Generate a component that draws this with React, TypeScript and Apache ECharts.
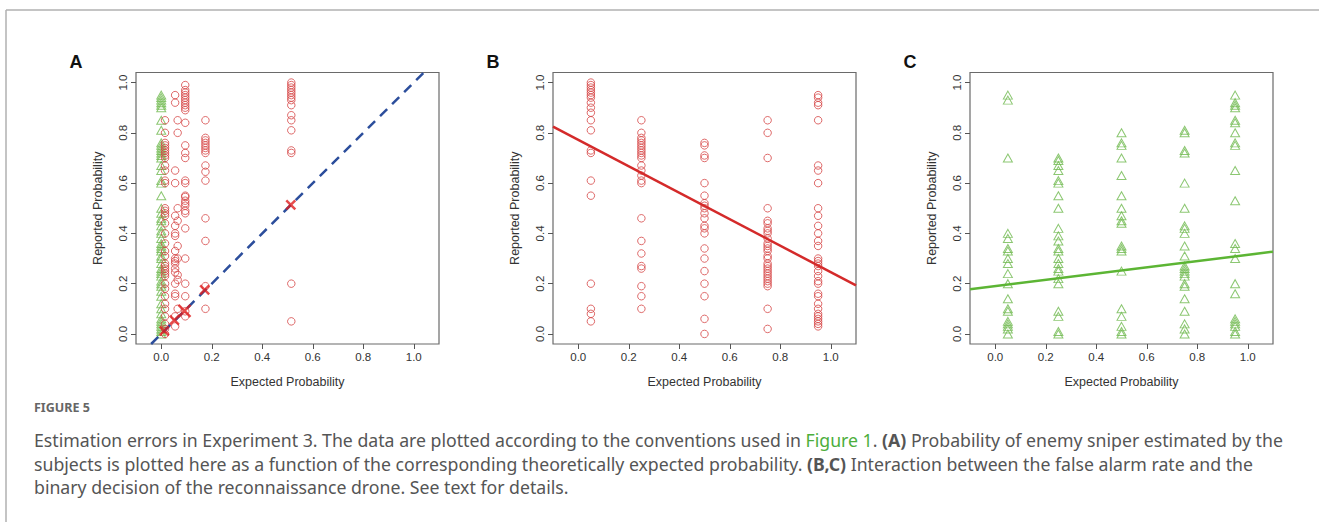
import React, { useEffect, useRef } from "react";
import * as echarts from "echarts";

// ---------- data ----------
const TICKS = [0, 0.2, 0.4, 0.6, 0.8, 1.0];

// Panel A
const aGreenX = 0;
const aGreenY = [0.95, 0.94, 0.93, 0.92, 0.91, 0.9, 0.85, 0.81, 0.76, 0.75, 0.74, 0.73, 0.72, 0.71, 0.7, 0.67, 0.65, 0.61, 0.6, 0.55, 0.5, 0.48, 0.46, 0.45, 0.43, 0.41, 0.4, 0.38, 0.36, 0.35, 0.34, 0.33, 0.31, 0.3, 0.28, 0.26, 0.25, 0.24, 0.23, 0.21, 0.2, 0.19, 0.17, 0.15, 0.12, 0.1, 0.08, 0.06, 0.05, 0.04, 0.03, 0.02, 0.01, 0.0];
const aRedX = [0.015, 0.055, 0.065, 0.095, 0.175, 0.515];
const aRed1 = [0.85, 0.8, 0.76, 0.75, 0.74, 0.73, 0.72, 0.71, 0.7, 0.67, 0.65, 0.61, 0.6, 0.5, 0.49, 0.48, 0.47, 0.44, 0.4, 0.36, 0.33, 0.31, 0.28, 0.27, 0.26, 0.25, 0.24, 0.23, 0.2, 0.18, 0.15, 0.12, 0.1, 0.07, 0.04, 0.02, 0.0];
const aRed2 = [0.95, 0.92, 0.65, 0.6, 0.47, 0.43, 0.4, 0.39, 0.33, 0.3, 0.29, 0.28, 0.26, 0.245, 0.2, 0.16, 0.15, 0.07, 0.03];
const aRed3 = [0.85, 0.8, 0.5, 0.45, 0.35, 0.3, 0.235, 0.215, 0.1];
const aRed4 = [0.99, 0.97, 0.96, 0.95, 0.94, 0.93, 0.92, 0.91, 0.9, 0.89, 0.84, 0.75, 0.72, 0.7, 0.61, 0.6, 0.55, 0.545, 0.53, 0.52, 0.51, 0.49, 0.48, 0.42, 0.3, 0.2, 0.15, 0.09, 0.07];
const aRed5 = [0.85, 0.78, 0.77, 0.76, 0.75, 0.74, 0.73, 0.72, 0.67, 0.645, 0.61, 0.46, 0.37, 0.19, 0.1];
const aRed6 = [1.0, 0.99, 0.98, 0.97, 0.96, 0.95, 0.94, 0.93, 0.91, 0.87, 0.85, 0.81, 0.73, 0.72, 0.2, 0.05];
const aCrossX = [0.012, 0.052, 0.092, 0.172, 0.513];
const aCrossY = [0.012, 0.055, 0.092, 0.175, 0.513];
const aCrossSize = [9, 9, 12, 9, 9];
const aDiagX = [-0.04, 1.04];
const aDiagY = [-0.04, 1.04];

// Panel B (red circles) columns
const bX = [0.05, 0.25, 0.5, 0.75, 0.95];
const bY = [
  [1.0, 0.99, 0.98, 0.97, 0.96, 0.95, 0.94, 0.92, 0.9, 0.88, 0.85, 0.81, 0.73, 0.72, 0.61, 0.55, 0.2, 0.1, 0.08, 0.05],
  [0.85, 0.8, 0.78, 0.77, 0.76, 0.75, 0.74, 0.73, 0.72, 0.71, 0.7, 0.67, 0.65, 0.63, 0.61, 0.6, 0.46, 0.37, 0.32, 0.27, 0.26, 0.19, 0.15, 0.1],
  [0.76, 0.75, 0.71, 0.7, 0.6, 0.55, 0.52, 0.51, 0.5, 0.48, 0.46, 0.43, 0.42, 0.4, 0.34, 0.3, 0.25, 0.2, 0.15, 0.06, 0.0],
  [0.85, 0.8, 0.7, 0.5, 0.45, 0.44, 0.42, 0.41, 0.4, 0.38, 0.36, 0.35, 0.34, 0.33, 0.31, 0.3, 0.28, 0.27, 0.26, 0.25, 0.24, 0.23, 0.22, 0.21, 0.2, 0.19, 0.1, 0.02],
  [0.95, 0.94, 0.92, 0.91, 0.85, 0.67, 0.65, 0.6, 0.5, 0.47, 0.43, 0.4, 0.37, 0.35, 0.3, 0.29, 0.28, 0.27, 0.25, 0.23, 0.21, 0.2, 0.16, 0.15, 0.12, 0.1, 0.08, 0.07, 0.06, 0.05, 0.04, 0.03],
];
const bLineX = [-0.1, 1.1];
const bLineY = [0.825, 0.193];

// Panel C (green triangles) columns
const cX = [0.05, 0.25, 0.5, 0.75, 0.95];
const cY = [
  [0.95, 0.93, 0.7, 0.4, 0.38, 0.34, 0.33, 0.3, 0.28, 0.24, 0.2, 0.14, 0.1, 0.09, 0.05, 0.04, 0.03, 0.02, 0.0],
  [0.7, 0.69, 0.67, 0.65, 0.61, 0.6, 0.55, 0.5, 0.42, 0.39, 0.37, 0.34, 0.33, 0.3, 0.28, 0.26, 0.25, 0.22, 0.2, 0.09, 0.07, 0.01, 0.0],
  [0.8, 0.76, 0.75, 0.7, 0.63, 0.55, 0.5, 0.47, 0.45, 0.44, 0.35, 0.34, 0.33, 0.25, 0.1, 0.07, 0.03, 0.01, 0.0],
  [0.81, 0.8, 0.73, 0.72, 0.6, 0.5, 0.43, 0.42, 0.4, 0.35, 0.31, 0.27, 0.26, 0.25, 0.24, 0.23, 0.2, 0.19, 0.14, 0.09, 0.04, 0.02, 0.0],
  [0.95, 0.92, 0.91, 0.9, 0.85, 0.84, 0.8, 0.76, 0.75, 0.65, 0.53, 0.36, 0.34, 0.3, 0.2, 0.16, 0.06, 0.05, 0.04, 0.03, 0.01, 0.0],
];
const cLineX = [-0.1, 1.1];
const cLineY = [0.178, 0.327];

const panelLabels = ["A", "B", "C"];
const axisXName = "Expected Probability";
const axisYName = "Reported Probability";
const captionHead = "FIGURE 5";
const captionLines = [
  "Estimation errors in Experiment 3. The data are plotted according to the conventions used in {g|Figure 1}. {b|(A)} Probability of enemy sniper estimated by the",
  "subjects is plotted here as a function of the corresponding theoretically expected probability. {b|(B,C)} Interaction between the false alarm rate and the",
  "binary decision of the reconnaissance drone. See text for details.",
];

// ---------- styling ----------
const RED = "#d64545";
const GREEN = "#6fb94f";
const AXIS_FONT = "Liberation Sans, Arial, sans-serif";
const CAP_FONT = "Noto Sans, Open Sans, sans-serif";
const CAP_SIZE = 17.7;
const GRID_LEFTS = [136, 553, 970];
const GRID_TOP = 72.5;
const GRID_W = 303;
const GRID_H = 271.5;

const col = (x: number, ys: number[]) => ys.map((y) => [x, y]);
const zip = (xs: number[], ys: number[]) => xs.map((x, i) => [x, ys[i]]);

export default function App() {
  const ref = useRef<HTMLDivElement>(null);
  useEffect(() => {
    if (!ref.current) return;
    const chart = echarts.init(ref.current, undefined, { renderer: "svg" });

    const grids = GRID_LEFTS.map((l) => ({
      left: l,
      top: GRID_TOP,
      width: GRID_W,
      height: GRID_H,
      show: true,
      borderColor: "#6a6a6a",
      borderWidth: 1.2,
      backgroundColor: "transparent",
      containLabel: false,
    }));

    const labelStyle = { color: "#333", fontSize: 11.5, fontFamily: AXIS_FONT };
    const xAxes = GRID_LEFTS.map((_, gi) => ({
      type: "value",
      gridIndex: gi,
      position: "bottom",
      min: -0.1,
      max: 1.1,
      axisLine: { show: false, onZero: false },
      splitLine: { show: false },
      axisTick: { show: true, customValues: TICKS, length: 5, lineStyle: { color: "#555", width: 1 } },
      axisLabel: { ...labelStyle, customValues: TICKS, margin: 7, formatter: (v: number) => v.toFixed(1) },
      name: axisXName,
      nameLocation: "middle",
      nameGap: 31,
      nameTextStyle: { color: "#333", fontSize: 12.5, fontFamily: AXIS_FONT },
    }));
    const yAxes = GRID_LEFTS.map((_, gi) => ({
      type: "value",
      gridIndex: gi,
      position: "left",
      min: -0.04,
      max: 1.04,
      axisLine: { show: false, onZero: false },
      splitLine: { show: false },
      axisTick: { show: true, customValues: TICKS, length: 5, lineStyle: { color: "#555", width: 1 } },
      axisLabel: { ...labelStyle, customValues: TICKS, margin: 7, rotate: 90, formatter: (v: number) => v.toFixed(1) },
      name: axisYName,
      nameLocation: "middle",
      nameGap: 32,
      nameTextStyle: { color: "#333", fontSize: 12.5, fontFamily: AXIS_FONT },
    }));

    const circle = (gi: number, data: number[][]) => ({
      type: "scatter",
      xAxisIndex: gi,
      yAxisIndex: gi,
      symbol: "circle",
      symbolSize: 7.5,
      data,
      itemStyle: { color: "transparent", borderColor: RED, borderWidth: 1 },
      silent: true,
      z: 3,
    });
    const tri = (gi: number, data: number[][]) => ({
      type: "scatter",
      xAxisIndex: gi,
      yAxisIndex: gi,
      symbol: "triangle",
      symbolSize: [9, 8],
      data,
      itemStyle: { color: "transparent", borderColor: GREEN, borderWidth: 1 },
      silent: true,
      z: 2,
    });

    const aRedCols = [aRed1, aRed2, aRed3, aRed4, aRed5, aRed6];
    const series: any[] = [];
    series.push(tri(0, col(aGreenX, aGreenY)));
    aRedCols.forEach((ys, i) => series.push(circle(0, col(aRedX[i], ys))));
    series.push({
      type: "line",
      xAxisIndex: 0,
      yAxisIndex: 0,
      data: zip(aDiagX, aDiagY),
      symbol: "none",
      lineStyle: { color: "#2c4e9c", width: 2.5, type: [10, 7] },
      silent: true,
      z: 4,
    });
    series.push({
      type: "scatter",
      xAxisIndex: 0,
      yAxisIndex: 0,
      symbol: "path://M0,0L10,10M10,0L0,10",
      data: aCrossX.map((x, i) => ({ value: [x, aCrossY[i]], symbolSize: aCrossSize[i] })),
      itemStyle: { color: "none", borderColor: "#e01e1e", borderWidth: 2.5 },
      silent: true,
      z: 5,
    });

    bY.forEach((ys, i) => series.push(circle(1, col(bX[i], ys))));
    series.push({
      type: "line",
      xAxisIndex: 1,
      yAxisIndex: 1,
      data: zip(bLineX, bLineY),
      symbol: "none",
      lineStyle: { color: "#d42a2a", width: 2.5 },
      silent: true,
      z: 4,
    });

    cY.forEach((ys, i) => series.push(tri(2, col(cX[i], ys))));
    series.push({
      type: "line",
      xAxisIndex: 2,
      yAxisIndex: 2,
      data: zip(cLineX, cLineY),
      symbol: "none",
      lineStyle: { color: "#5cb534", width: 2.5 },
      silent: true,
      z: 4,
    });

    const rich = {
      g: { fill: "#4cae3c", fontSize: CAP_SIZE, fontFamily: CAP_FONT },
      b: { fill: "#555", fontSize: CAP_SIZE, fontFamily: CAP_FONT, fontWeight: "bold" },
    };
    const graphic: any[] = [
      { type: "line", shape: { x1: 6, y1: 10, x2: 1319, y2: 10 }, style: { stroke: "#b0b0b0", lineWidth: 1.5 } },
      { type: "line", shape: { x1: 6, y1: 10, x2: 6, y2: 522 }, style: { stroke: "#b0b0b0", lineWidth: 1.5 } },
      ...panelLabels.map((t, i) => ({
        type: "text",
        x: GRID_LEFTS[i] - 60,
        y: 62,
        style: { text: t, fill: "#111", fontSize: 18, fontWeight: "bold", fontFamily: AXIS_FONT, verticalAlign: "middle", align: "center" },
      })),
      {
        type: "text",
        x: 34,
        y: 407,
        style: { text: captionHead, fill: "#666", fontSize: 12.5, fontWeight: "bold", fontFamily: CAP_FONT, verticalAlign: "middle" },
      },
      ...captionLines.map((t, i) => ({
        type: "text",
        x: 34,
        y: 440 + i * 23.5,
        style: { text: t, fill: "#555", fontSize: CAP_SIZE, fontFamily: CAP_FONT, verticalAlign: "middle", rich },
      })),
    ];

    chart.setOption({
      animation: false,
      backgroundColor: "#fff",
      grid: grids,
      xAxis: xAxes,
      yAxis: yAxes,
      series,
      graphic,
    } as any);
    return () => chart.dispose();
  }, []);
  return <div ref={ref} style={{ position: "fixed", left: 0, top: 0, width: 1319, height: 522 }} />;
}
